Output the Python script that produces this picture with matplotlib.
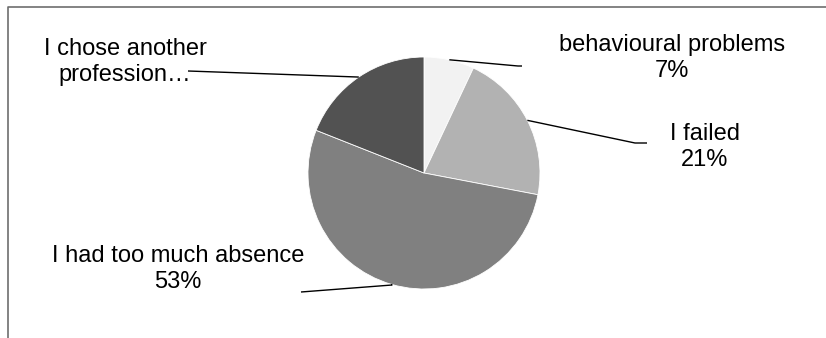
import matplotlib.pyplot as plt
import numpy as np

plt.rcParams["font.family"] = ["Liberation Sans", "DejaVu Sans"]

labels = ["behavioural problems", "I failed", "I had too much absence", "I chose another\nprofession…"]
shares = [7, 21, 53, 19]
colors = ["#f2f2f2", "#b2b2b2", "#808080", "#525252"]

W, H = 826, 338
fig = plt.figure(figsize=(W / 100, H / 100), dpi=100)
ax = fig.add_axes([0, 0, 1, 1])

# chart area border (only top and left edges fall inside the frame)
ax.plot([8, 8, W + 5], [-5, H - 7, H - 7], color="#6e6e6e", lw=1.2)

cx, cy, r = 424, H - 173, 116
wedges, _ = ax.pie(
    shares,
    colors=colors,
    startangle=90,
    counterclock=False,
    center=(cx, cy),
    radius=r,
    frame=True,
    wedgeprops=dict(edgecolor="white", linewidth=0.6),
)
ax.set_xlim(0, W)
ax.set_ylim(0, H)
ax.set_aspect("equal")
ax.axis("off")

# label text centre and the leader line path (knee points), in pixels
label_pos = [(672, H - 58), (705, H - 147), (178, H - 269), (125, H - 62)]
leader_pts = [
    [(518, H - 66), (522, H - 66)],
    [(635, H - 143), (647, H - 143)],
    [(392, H - 285), (301, H - 292)],
    [(188, H - 71)],
]

for w, lab, share, pos, pts in zip(wedges, labels, shares, label_pos, leader_pts):
    mid = np.deg2rad((w.theta1 + w.theta2) / 2)
    x0, y0 = cx + r * np.cos(mid), cy + r * np.sin(mid)
    xs = [x0] + [p[0] for p in pts]
    ys = [y0] + [p[1] for p in pts]
    ax.plot(xs, ys, color="black", lw=1.0, solid_capstyle="butt")
    text = lab if "profession" in lab else f"{lab}\n{share}%"
    ax.text(pos[0], pos[1], text, ha="center", va="center", fontsize=17,
            color="black", linespacing=1.28)

fig.savefig("out.png", dpi=100)
